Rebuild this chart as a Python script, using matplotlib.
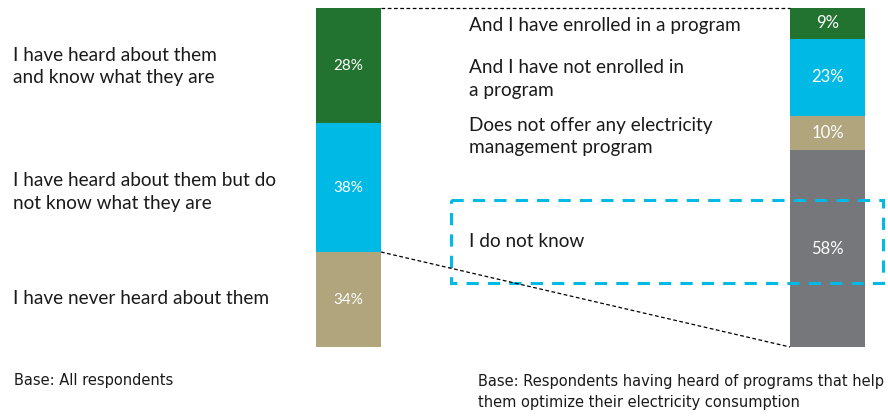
import matplotlib.pyplot as plt
from matplotlib.patches import Rectangle

# Left bar: awareness of programs (segment heights as drawn, labels as printed)
left_labels = ["I have heard about them\nand know what they are",
               "I have heard about them but do\nnot know what they are",
               "I have never heard about them"]
left_heights = [34, 38, 28]
left_values = ["28%", "38%", "34%"]
left_colors = ["#237330", "#00B9E4", "#B1A57E"]

# Right bar: among those who heard about them
right_labels = ["And I have enrolled in a program",
                "And I have not enrolled in\na program",
                "Does not offer any electricity\nmanagement program",
                "I do not know"]
right_values = [9, 23, 10, 58]
right_colors = ["#237330", "#00B9E4", "#B1A57E", "#76777B"]

W, H = 888, 417
fig = plt.figure(figsize=(W / 100, H / 100), dpi=100)
font = ["Lato", "DejaVu Sans"]
txt = "#1a1a1a"


def px_axes(x0, y0, x1, y1):
    return fig.add_axes([x0 / W, 1 - y1 / H, (x1 - x0) / W, (y1 - y0) / H])


def stacked(ax, heights, colors, labels, fs):
    bottom = 0
    for h, c, lab in zip(heights, colors, labels):
        ax.bar(0, h, bottom=bottom, width=1, color=c)
        ax.text(0, bottom + h / 2, lab, color="white", ha="center", va="center",
                fontsize=fs, family=font)
        bottom += h
    ax.set_xlim(-0.5, 0.5)
    ax.set_ylim(sum(heights), 0)
    ax.axis("off")


axl = px_axes(316, 8, 381, 347)
stacked(axl, left_heights, left_colors, left_values, 11)
axr = px_axes(790, 8, 865, 347)
stacked(axr, right_values, right_colors, [f"{v}%" for v in right_values], 12)

# overlay in pixel coordinates for text and connectors
ov = fig.add_axes([0, 0, 1, 1], zorder=5)
ov.set_xlim(0, W)
ov.set_ylim(H, 0)
ov.axis("off")
ov.patch.set_alpha(0)

for lab, y in zip(left_labels, [66.5, 192, 299]):
    ov.text(13, y, lab, ha="left", va="center", fontsize=13.7, family=font,
            color=txt, linespacing=1.4)
for lab, y in zip(right_labels, [25, 79, 136.5, 241]):
    ov.text(469, y, lab, ha="left", va="center", fontsize=13.7, family=font,
            color=txt, linespacing=1.4)

ov.plot([381, 790], [8, 8], ls=(0, (3, 2)), color="black", lw=0.9)
ov.plot([381, 790], [252, 347], ls=(0, (3, 2)), color="black", lw=0.9)
ov.add_patch(Rectangle((451, 200), 432, 83, fill=False, edgecolor="#00B9E4",
                       lw=2.2, ls=(0, (4, 3))))

base_font = ["Liberation Sans Narrow", "DejaVu Sans"]
ov.text(14, 381, "Base: All respondents", ha="left", va="center",
        fontsize=10.5, family=base_font, color=txt)
ov.text(478, 392, "Base: Respondents having heard of programs that help\n"
        "them optimize their electricity consumption", ha="left", va="center",
        fontsize=10.5, family=base_font, color=txt, linespacing=1.5)

fig.savefig("out.png", dpi=100)
